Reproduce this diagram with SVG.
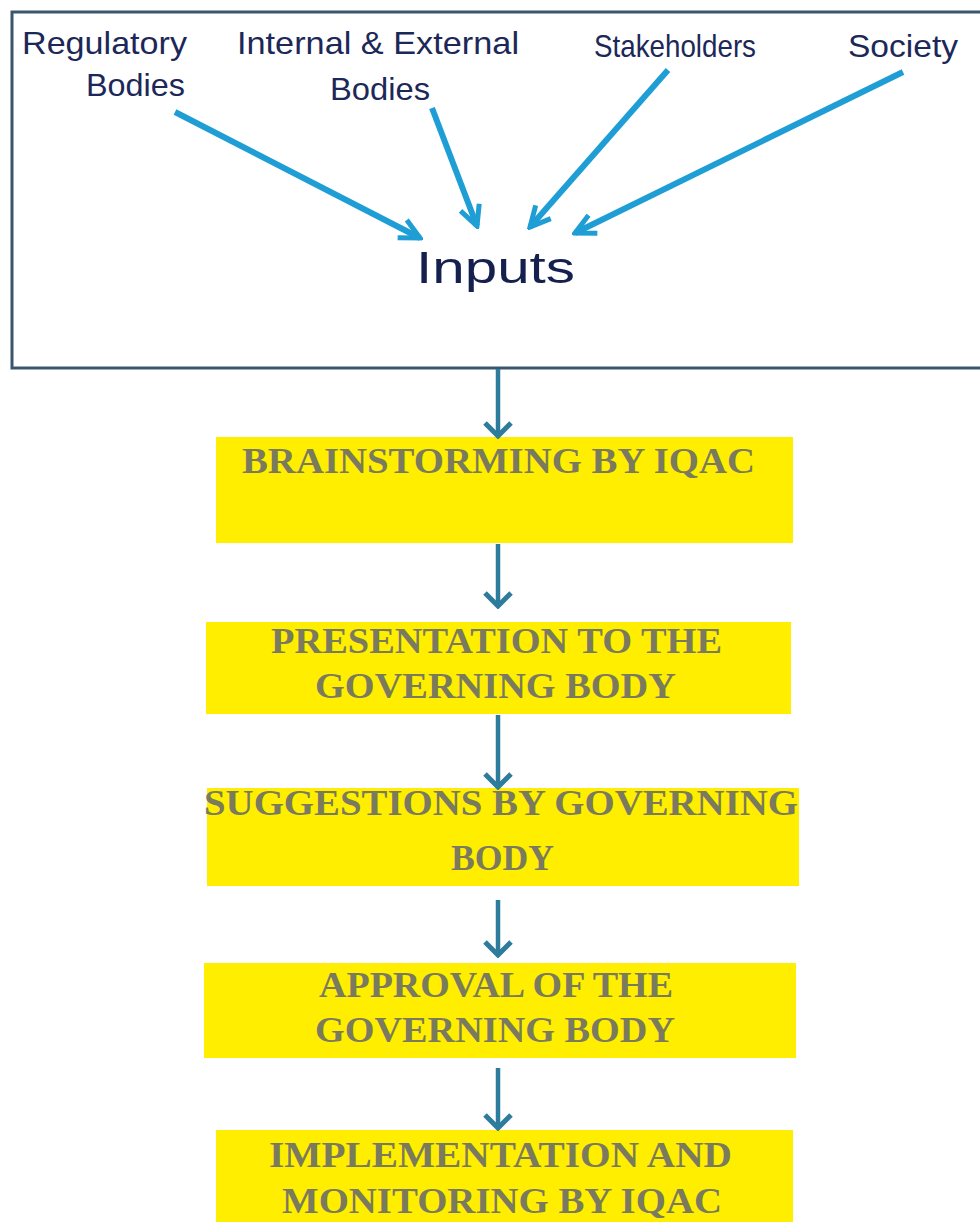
<svg xmlns="http://www.w3.org/2000/svg" width="980" height="1222" viewBox="0 0 980 1222">
<defs>
<style>
.lbl{font-family:"Liberation Sans","DejaVu Sans",sans-serif;font-size:32px;fill:#1c2858;}
.inp{font-family:"Liberation Sans","DejaVu Sans",sans-serif;font-size:44px;fill:#16204e;}
.box{fill:#ffee00;}
.bt{font-family:"Liberation Serif","Times New Roman",serif;font-weight:bold;font-size:35px;fill:#7a7a5e;}
.blue{stroke:#1f9ed6;stroke-width:6;fill:none;marker-end:url(#bh);}
.dark{stroke:#2d7c9c;stroke-width:4.5;fill:none;marker-end:url(#dh);}
</style>
<marker id="bh" viewBox="0 0 26 26" markerWidth="26" markerHeight="26" refX="23" refY="13" orient="auto" markerUnits="userSpaceOnUse">
<path d="M3,3 L23,13 L3,23" fill="none" stroke="#1f9ed6" stroke-width="5"/>
</marker>
<marker id="dh" viewBox="0 0 18 30" markerWidth="18" markerHeight="30" refX="15" refY="15" orient="auto" markerUnits="userSpaceOnUse">
<path d="M2,2 L15,15 L2,28" fill="none" stroke="#2d7c9c" stroke-width="5"/>
</marker>
</defs>
<rect width="980" height="1222" fill="#ffffff"/>
<g id="inputs-box">
<rect x="12" y="12" width="990" height="356" fill="#ffffff" stroke="#3a566f" stroke-width="3"/>
<text class="inp" x="416" y="283" textLength="159" lengthAdjust="spacingAndGlyphs">Inputs</text>
</g>
<g id="src-regulatory">
<text class="lbl" x="22" y="54" textLength="165" lengthAdjust="spacingAndGlyphs">Regulatory</text>
<text class="lbl" x="86" y="96" textLength="99" lengthAdjust="spacingAndGlyphs">Bodies</text>
</g>
<g id="src-internal">
<text class="lbl" x="237" y="54" textLength="282" lengthAdjust="spacingAndGlyphs">Internal &amp; External</text>
<text class="lbl" x="330" y="100" textLength="100" lengthAdjust="spacingAndGlyphs">Bodies</text>
</g>
<g id="src-stakeholders">
<text class="lbl" x="594" y="57" textLength="162" lengthAdjust="spacingAndGlyphs">Stakeholders</text>
</g>
<g id="src-society">
<text class="lbl" x="848" y="57" textLength="110" lengthAdjust="spacingAndGlyphs">Society</text>
</g>
<g id="n1">
<rect class="box" x="216" y="437" width="577" height="106"/>
<text class="bt" x="242" y="473" textLength="513" lengthAdjust="spacingAndGlyphs">BRAINSTORMING BY IQAC</text>
</g>
<g id="n2">
<rect class="box" x="206" y="622" width="585" height="92"/>
<text class="bt" x="271" y="653" textLength="451" lengthAdjust="spacingAndGlyphs">PRESENTATION TO THE</text>
<text class="bt" x="315" y="698" textLength="361" lengthAdjust="spacingAndGlyphs">GOVERNING BODY</text>
</g>
<g id="n3">
<rect class="box" x="207" y="788" width="592" height="98"/>
<text class="bt" x="204" y="815" textLength="594" lengthAdjust="spacingAndGlyphs">SUGGESTIONS BY GOVERNING</text>
<text class="bt" x="451" y="870" textLength="103" lengthAdjust="spacingAndGlyphs">BODY</text>
</g>
<g id="n4">
<rect class="box" x="204" y="963" width="592" height="95"/>
<text class="bt" x="319" y="997" textLength="354" lengthAdjust="spacingAndGlyphs">APPROVAL OF THE</text>
<text class="bt" x="315" y="1042" textLength="360" lengthAdjust="spacingAndGlyphs">GOVERNING BODY</text>
</g>
<g id="n5">
<rect class="box" x="216" y="1130" width="577" height="92"/>
<text class="bt" x="269" y="1167" textLength="463" lengthAdjust="spacingAndGlyphs">IMPLEMENTATION AND</text>
<text class="bt" x="282" y="1213" textLength="440" lengthAdjust="spacingAndGlyphs">MONITORING BY IQAC</text>
</g>
<g id="connectors">
<line class="blue" x1="175" y1="112" x2="420" y2="238"/>
<line class="blue" x1="432" y1="108" x2="477" y2="226"/>
<line class="blue" x1="668" y1="70" x2="530" y2="227"/>
<line class="blue" x1="903" y1="72" x2="575" y2="233"/>
<line class="dark" x1="498" y1="369" x2="498" y2="436"/>
<line class="dark" x1="498" y1="544" x2="498" y2="606"/>
<line class="dark" x1="498" y1="715" x2="498" y2="787"/>
<line class="dark" x1="498" y1="900" x2="498" y2="955"/>
<line class="dark" x1="498" y1="1068" x2="498" y2="1128"/>
</g>
</svg>
